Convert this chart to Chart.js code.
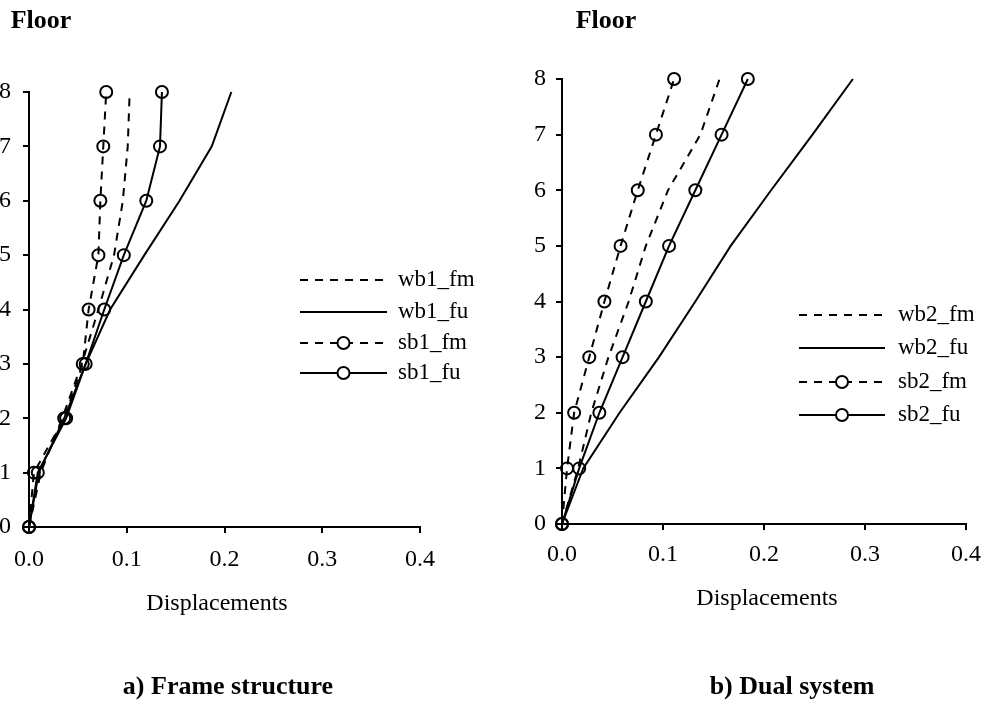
<!DOCTYPE html>
<html>
<head>
<meta charset="utf-8">
<script src="https://cdn.jsdelivr.net/npm/chart.js@4.4.1/dist/chart.umd.min.js"></script>
<style>
  html, body { margin: 0; padding: 0; background: #fff; }
  body { width: 991px; height: 716px; position: relative; overflow: hidden; font-family: "Liberation Serif", "Times New Roman", serif; color: #000; }
  .box { position: absolute; top: 0; height: 716px; }
  .txt { position: absolute; transform: translate(-50%, -50%); white-space: nowrap; }
  .bold { font-weight: bold; font-size: 26px; }
  .axis-title { font-size: 24px; }
</style>
</head>
<body>
<div class="box" style="left:0;width:495px"><canvas id="chartA"></canvas></div>
<div class="box" style="left:495px;width:496px"><canvas id="chartB"></canvas></div>

<div class="txt bold" style="left:41px;top:20px">Floor</div>
<div class="txt bold" style="left:606px;top:20px">Floor</div>
<div class="txt axis-title" style="left:217px;top:602px">Displacements</div>
<div class="txt axis-title" style="left:767px;top:597px">Displacements</div>
<div class="txt bold" style="left:228px;top:686px">a) Frame structure</div>
<div class="txt bold" style="left:792px;top:686px">b) Dual system</div>

<script>
// floors (y values)
const floors = [0, 1, 2, 3, 4, 5, 6, 7, 8];
const xTicks = [0, 0.1, 0.2, 0.3, 0.4];

// a) frame structure, displacement per floor
const wb1_fm = [0, 0.012, 0.034, 0.054, 0.071, 0.087, 0.096, 0.101, 0.103];
const wb1_fu = [0, 0.010, 0.036, 0.058, 0.083, 0.118, 0.154, 0.187, 0.207];
const sb1_fm = [0, 0.005, 0.036, 0.055, 0.061, 0.071, 0.073, 0.076, 0.079];
const sb1_fu = [0, 0.009, 0.038, 0.058, 0.077, 0.097, 0.120, 0.134, 0.136];

// b) dual system
const wb2_fm = [0, 0.016, 0.029, 0.046, 0.066, 0.083, 0.105, 0.137, 0.156];
const wb2_fu = [0, 0.021, 0.057, 0.096, 0.132, 0.167, 0.207, 0.248, 0.288];
const sb2_fm = [0, 0.005, 0.012, 0.027, 0.042, 0.058, 0.075, 0.093, 0.111];
const sb2_fu = [0, 0.017, 0.037, 0.060, 0.083, 0.106, 0.132, 0.158, 0.184];

const DASH = [8, 7];

const toPoints = vals => vals.map((v, i) => ({ x: v, y: floors[i] }));

const makeSet = (label, vals, dashed, marker) => ({
  label: label,
  data: toPoints(vals),
  showLine: true,
  borderColor: '#000',
  borderWidth: 2,
  borderDash: dashed ? DASH : [],
  tension: 0,
  pointRadius: marker ? 6 : 0,
  pointHoverRadius: marker ? 6 : 0,
  pointBorderWidth: 2,
  pointBorderColor: '#000',
  pointBackgroundColor: 'rgba(0,0,0,0)',
  clip: false
});

// legend: sample line (dashed or solid) with optional circle, text to the right
const sketchLegend = {
  id: 'sketchLegend',
  afterDraw(chart, args, opts) {
    const ctx = chart.ctx;
    ctx.save();
    chart.data.datasets.forEach((ds, i) => {
      const y = opts.rows[i];
      ctx.strokeStyle = '#000';
      ctx.lineWidth = 2;
      ctx.setLineDash(ds.borderDash || []);
      ctx.beginPath();
      ctx.moveTo(opts.x0, y);
      ctx.lineTo(opts.x1, y);
      ctx.stroke();
      ctx.setLineDash([]);
      if (ds.pointRadius > 0) {
        ctx.beginPath();
        ctx.arc((opts.x0 + opts.x1) / 2, y, ds.pointRadius, 0, Math.PI * 2);
        ctx.fillStyle = '#fff';
        ctx.fill();
        ctx.stroke();
      }
      ctx.fillStyle = '#000';
      ctx.font = opts.font;
      ctx.textBaseline = 'middle';
      ctx.textAlign = 'left';
      ctx.fillText(ds.label, opts.tx, y);
    });
    ctx.restore();
  }
};

const makeChart = (id, sets, box) => {
  return new Chart(document.getElementById(id), {
    type: 'scatter',
    data: { datasets: sets },
    plugins: [sketchLegend],
    options: {
      responsive: true,
      maintainAspectRatio: false,
      animation: false,
      events: [],
      layout: { padding: box.padding },
      scales: {
        x: {
          type: 'linear',
          min: 0,
          max: 0.4,
          afterBuildTicks: s => { s.ticks = xTicks.map(v => ({ value: v })); },
          afterFit: s => { s.height = 40; },
          border: { color: '#000', width: 2 },
          grid: { drawOnChartArea: false, drawTicks: true, tickLength: 6, tickColor: '#000', tickWidth: 2, lineWidth: 2 },
          ticks: {
            color: '#000',
            padding: box.xPad,
            maxRotation: 0,
            font: { family: '"Liberation Serif", serif', size: 24 },
            callback: v => v.toFixed(1)
          }
        },
        y: {
          type: 'linear',
          min: 0,
          max: 8,
          afterBuildTicks: s => { s.ticks = floors.map(v => ({ value: v })); },
          afterFit: s => { s.width = box.yWidth; },
          border: { color: '#000', width: 2 },
          grid: { drawOnChartArea: false, drawTicks: true, tickLength: 6, tickColor: '#000', tickWidth: 2, lineWidth: 2 },
          ticks: {
            color: '#000',
            padding: box.yPad,
            font: { family: '"Liberation Serif", serif', size: 24 }
          }
        }
      },
      plugins: {
        legend: { display: false },
        tooltip: { enabled: false },
        sketchLegend: box.legend
      }
    }
  });
};

makeChart('chartA', [
  makeSet('wb1_fm', wb1_fm, true, false),
  makeSet('wb1_fu', wb1_fu, false, false),
  makeSet('sb1_fm', sb1_fm, true, true),
  makeSet('sb1_fu', sb1_fu, false, true)
], {
  padding: { left: 0, right: 75, top: 92, bottom: 149 },
  yWidth: 29, yPad: 12, xPad: 12,
  legend: { x0: 300, x1: 387, tx: 398, rows: [280, 312, 343, 373], font: '23px "Liberation Serif", serif' }
});

makeChart('chartB', [
  makeSet('wb2_fm', wb2_fm, true, false),
  makeSet('wb2_fu', wb2_fu, false, false),
  makeSet('sb2_fm', sb2_fm, true, true),
  makeSet('sb2_fu', sb2_fu, false, true)
], {
  padding: { left: 0, right: 19, top: 79, bottom: 152 },
  yWidth: 67, yPad: 10, xPad: 10,
  legend: { x0: 304, x1: 390, tx: 403, rows: [315, 348, 382, 415], font: '23px "Liberation Serif", serif' }
});
</script>
</body>
</html>
